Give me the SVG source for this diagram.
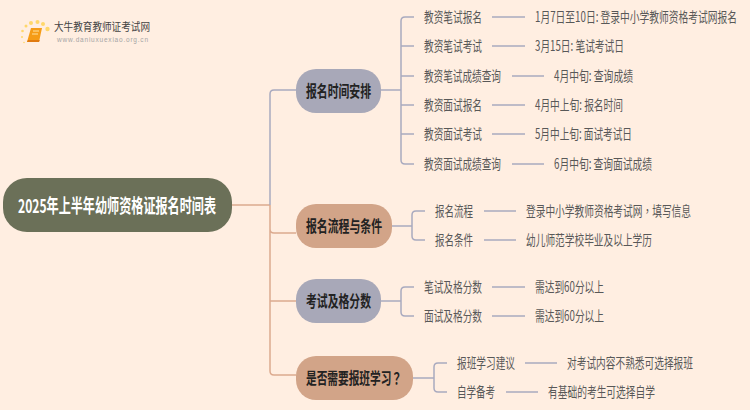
<svg xmlns="http://www.w3.org/2000/svg" width="750" height="410" viewBox="0 0 750 410">
<style>
text{font-family:"Noto Sans CJK SC","Liberation Sans",sans-serif;dominant-baseline:central;transform:translateY(-1px);}
.leaf{font-size:14px;fill:#585858;}
.main{font-size:16px;font-weight:700;fill:#222;}
.root{font-size:19px;font-weight:700;fill:#fff;}
.tc{font-family:"Noto Sans CJK TC","Liberation Sans",sans-serif;}
.b{fill:none;stroke:#a9aabf;stroke-width:1.5;}
.t{fill:none;stroke:#dcaa8f;stroke-width:1.5;}
</style>
<rect width="750" height="410" fill="#ffeee1"/>
<g id="logo">
<g fill="#ffd76a"><circle cx="47.500" cy="29" r="2.200"/><circle cx="43" cy="24" r="2"/><circle cx="37.500" cy="22" r="2"/><circle cx="31" cy="23" r="2"/><circle cx="26" cy="26" r="1.500"/><circle cx="22.500" cy="31" r="1.300"/><circle cx="22" cy="37" r="1"/><circle cx="24" cy="42.500" r="0.800"/></g>
<path d="M31 28h11l-3 14H27z" fill="#f59c17"/><path d="M27 42h12l0.800 -2H28z" fill="#e07a10"/><path d="M33 31h6M32 34h6" stroke="#ffe2a0" stroke-width="1"/>
<text x="54" y="27" font-size="11" fill="#444" textLength="96" lengthAdjust="spacingAndGlyphs">大牛教育教师证考试网</text>
<text x="57" y="40" font-size="6.500" fill="#a5a5a5" textLength="91" style="font-family:'Liberation Sans',sans-serif">www.daniuxuexiao.org.cn</text>
</g>
<g id="connectors">
<path class="t" d="M232 205H270M270 205V371q0 4 4 4H296M270 205V229q0 4 4 4H296M270 301H296"/>
<path class="b" d="M270 205V94q0-4 4-4H296"/>
<path class="b" d="M381 90H401M414 17H405q-4 0-4 4V160q0 4 4 4H414M401 46H414M401 76H414M401 105H414M401 134H414"/>
<path class="b" d="M492 17H525M492 46H525M512 76H544M492 105H525M492 134H525M512 164H544"/>
<path class="b" d="M392 226H412M425 211H416q-4 0-4 4V236q0 4 4 4H425M484 211H516M484 240H516"/>
<path class="b" d="M381 301H401M414 287H405q-4 0-4 4V312q0 4 4 4H414M492 287H525M492 316H525"/>
<path class="b" d="M413 378H434M447 363H438q-4 0-4 4V388q0 4 4 4H447M525 363H557M506 392H538"/>
</g>
<g id="root"><rect x="3" y="178" width="229" height="54" rx="24" fill="#6b7058"/><text class="root" x="18" y="205" textLength="198" lengthAdjust="spacingAndGlyphs">2025年上半年幼师资格证报名时间表</text></g>
<g id="n1"><rect x="296" y="69" width="85" height="44" rx="20" fill="#a8a8b8"/><text class="main" x="306" y="91" textLength="65" lengthAdjust="spacingAndGlyphs">报名时间安排</text></g>
<g id="n2"><rect x="296" y="204" width="96" height="44" rx="20" fill="#d2a488"/><text class="main" x="306" y="226" textLength="76" lengthAdjust="spacingAndGlyphs">报名流程与条件</text></g>
<g id="n3"><rect x="296" y="279" width="85" height="44" rx="20" fill="#a8a8b8"/><text class="main" x="306" y="301" textLength="65" lengthAdjust="spacingAndGlyphs">考试及格分数</text></g>
<g id="n4"><rect x="296" y="356" width="117" height="44" rx="20" fill="#d2a488"/><text class="main tc" x="306" y="378" textLength="96" lengthAdjust="spacingAndGlyphs">是否需要报班学习？</text></g>
<g id="leaves1">
<text class="leaf" x="424" y="17" textLength="58" lengthAdjust="spacingAndGlyphs">教资笔试报名</text>
<text class="leaf" x="535" y="17" textLength="202" lengthAdjust="spacingAndGlyphs">1月7日至10日: 登录中小学教师资格考试网报名</text>
<text class="leaf" x="424" y="46" textLength="58" lengthAdjust="spacingAndGlyphs">教资笔试考试</text>
<text class="leaf" x="535" y="46" textLength="89" lengthAdjust="spacingAndGlyphs">3月15日: 笔试考试日</text>
<text class="leaf" x="424" y="76" textLength="77" lengthAdjust="spacingAndGlyphs">教资笔试成绩查询</text>
<text class="leaf" x="554" y="76" textLength="79" lengthAdjust="spacingAndGlyphs">4月中旬: 查询成绩</text>
<text class="leaf" x="424" y="105" textLength="58" lengthAdjust="spacingAndGlyphs">教资面试报名</text>
<text class="leaf" x="535" y="105" textLength="88" lengthAdjust="spacingAndGlyphs">4月中上旬: 报名时间</text>
<text class="leaf" x="424" y="134" textLength="58" lengthAdjust="spacingAndGlyphs">教资面试考试</text>
<text class="leaf" x="535" y="134" textLength="97" lengthAdjust="spacingAndGlyphs">5月中上旬: 面试考试日</text>
<text class="leaf" x="424" y="164" textLength="77" lengthAdjust="spacingAndGlyphs">教资面试成绩查询</text>
<text class="leaf" x="554" y="164" textLength="98" lengthAdjust="spacingAndGlyphs">6月中旬: 查询面试成绩</text>
</g>
<g id="leaves2">
<text class="leaf" x="435" y="211" textLength="38" lengthAdjust="spacingAndGlyphs">报名流程</text>
<text class="leaf tc" x="526" y="211" textLength="165" lengthAdjust="spacingAndGlyphs">登录中小学教师资格考试网，填写信息</text>
<text class="leaf" x="435" y="240" textLength="38" lengthAdjust="spacingAndGlyphs">报名条件</text>
<text class="leaf" x="526" y="240" textLength="126" lengthAdjust="spacingAndGlyphs">幼儿师范学校毕业及以上学历</text>
</g>
<g id="leaves3">
<text class="leaf" x="424" y="287" textLength="58" lengthAdjust="spacingAndGlyphs">笔试及格分数</text>
<text class="leaf" x="535" y="287" textLength="69" lengthAdjust="spacingAndGlyphs">需达到60分以上</text>
<text class="leaf" x="424" y="316" textLength="58" lengthAdjust="spacingAndGlyphs">面试及格分数</text>
<text class="leaf" x="535" y="316" textLength="69" lengthAdjust="spacingAndGlyphs">需达到60分以上</text>
</g>
<g id="leaves4">
<text class="leaf" x="457" y="363" textLength="58" lengthAdjust="spacingAndGlyphs">报班学习建议</text>
<text class="leaf" x="567" y="363" textLength="126" lengthAdjust="spacingAndGlyphs">对考试内容不熟悉可选择报班</text>
<text class="leaf" x="457" y="392" textLength="38" lengthAdjust="spacingAndGlyphs">自学备考</text>
<text class="leaf" x="548" y="392" textLength="107" lengthAdjust="spacingAndGlyphs">有基础的考生可选择自学</text>
</g>
</svg>
